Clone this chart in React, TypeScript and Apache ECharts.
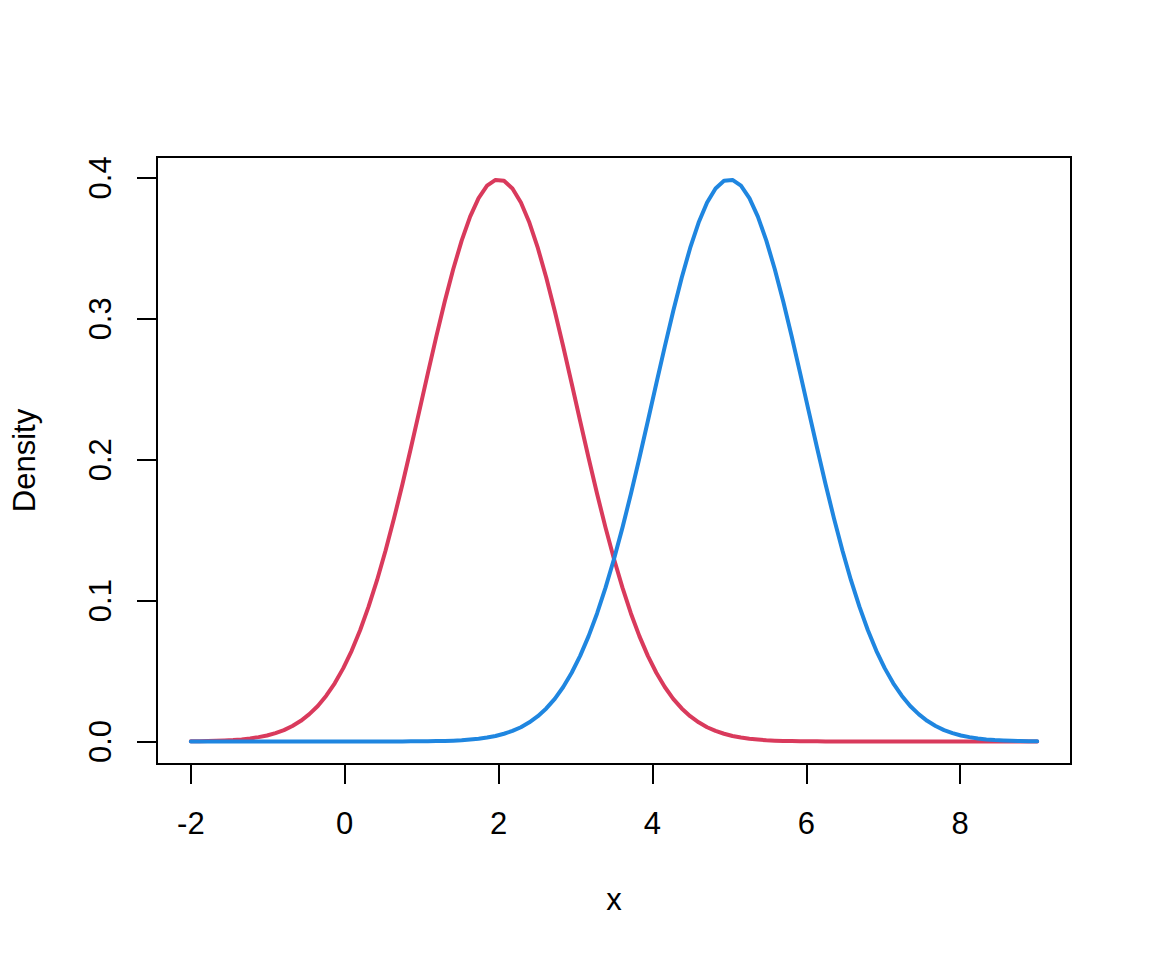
import React, { useEffect, useRef } from "react";
import * as echarts from "echarts";

// x grid (101 points from -2 to 9)
const xValues = [
  -2.0, -1.89, -1.78, -1.67, -1.56, -1.45, -1.34, -1.23, -1.12, -1.01,
  -0.9, -0.79, -0.68, -0.57, -0.46, -0.35, -0.24, -0.13, -0.02, 0.09,
  0.2, 0.31, 0.42, 0.53, 0.64, 0.75, 0.86, 0.97, 1.08, 1.19,
  1.3, 1.41, 1.52, 1.63, 1.74, 1.85, 1.96, 2.07, 2.18, 2.29,
  2.4, 2.51, 2.62, 2.73, 2.84, 2.95, 3.06, 3.17, 3.28, 3.39,
  3.5, 3.61, 3.72, 3.83, 3.94, 4.05, 4.16, 4.27, 4.38, 4.49,
  4.6, 4.71, 4.82, 4.93, 5.04, 5.15, 5.26, 5.37, 5.48, 5.59,
  5.7, 5.81, 5.92, 6.03, 6.14, 6.25, 6.36, 6.47, 6.58, 6.69,
  6.8, 6.91, 7.02, 7.13, 7.24, 7.35, 7.46, 7.57, 7.68, 7.79,
  7.9, 8.01, 8.12, 8.23, 8.34, 8.45, 8.56, 8.67, 8.78, 8.89,
  9.0,
];

// red curve (centred at 2)
const redDensity = [
  0.0001, 0.0002, 0.0003, 0.0005, 0.0007, 0.001, 0.0015, 0.0022, 0.0031, 0.0043,
  0.006, 0.0081, 0.011, 0.0147, 0.0194, 0.0252, 0.0325, 0.0413, 0.0519, 0.0644,
  0.079, 0.0957, 0.1145, 0.1354, 0.1582, 0.1826, 0.2083, 0.2347, 0.2613, 0.2874,
  0.3123, 0.3352, 0.3555, 0.3725, 0.3857, 0.3945, 0.3986, 0.398, 0.3925, 0.3825,
  0.3683, 0.3503, 0.3292, 0.3056, 0.2803, 0.2541, 0.2275, 0.2012, 0.1758, 0.1518,
  0.1295, 0.1092, 0.0909, 0.0748, 0.0608, 0.0488, 0.0387, 0.0303, 0.0235, 0.018,
  0.0136, 0.0101, 0.0075, 0.0055, 0.0039, 0.0028, 0.002, 0.0014, 0.0009, 0.0006,
  0.0004, 0.0003, 0.0002, 0.0001, 0.0001, 0, 0, 0, 0, 0,
  0, 0, 0, 0, 0, 0, 0, 0, 0, 0,
  0, 0, 0, 0, 0, 0, 0, 0, 0, 0,
  0,
];

// blue curve (centred at 5)
const blueDensity = [
  0, 0, 0, 0, 0, 0, 0, 0, 0, 0,
  0, 0, 0, 0, 0, 0, 0, 0, 0, 0,
  0, 0, 0, 0, 0, 0, 0.0001, 0.0001, 0.0002, 0.0003,
  0.0004, 0.0006, 0.0009, 0.0014, 0.002, 0.0028, 0.0039, 0.0055, 0.0075, 0.0101,
  0.0136, 0.018, 0.0235, 0.0303, 0.0387, 0.0488, 0.0608, 0.0748, 0.0909, 0.1092,
  0.1295, 0.1518, 0.1758, 0.2012, 0.2275, 0.2541, 0.2803, 0.3056, 0.3292, 0.3503,
  0.3683, 0.3825, 0.3925, 0.398, 0.3986, 0.3945, 0.3857, 0.3725, 0.3555, 0.3352,
  0.3123, 0.2874, 0.2613, 0.2347, 0.2083, 0.1826, 0.1582, 0.1354, 0.1145, 0.0957,
  0.079, 0.0644, 0.0519, 0.0413, 0.0325, 0.0252, 0.0194, 0.0147, 0.011, 0.0081,
  0.006, 0.0043, 0.0031, 0.0022, 0.0015, 0.001, 0.0007, 0.0005, 0.0003, 0.0002,
  0.0001,
];

const xTicks = [-2, 0, 2, 4, 6, 8];
const yTicks = [0, 0.1, 0.2, 0.3, 0.4];

const FONT = "'Liberation Sans', Arial, Helvetica, sans-serif";
const RED = "#D93A5C";
const BLUE = "#1F86E0";

export default function App() {
  const ref = useRef<HTMLDivElement>(null);
  useEffect(() => {
    if (!ref.current) return;
    const chart = echarts.init(ref.current, undefined, { renderer: "svg" });
    const red = xValues.map((x, i) => [x, redDensity[i]]);
    const blue = xValues.map((x, i) => [x, blueDensity[i]]);
    chart.setOption({
      animation: false,
      backgroundColor: "#ffffff",
      grid: {
        left: 157,
        top: 157,
        width: 914,
        height: 607,
        show: true,
        borderColor: "#000000",
        borderWidth: 2,
        backgroundColor: "transparent",
      },
      xAxis: {
        type: "value",
        min: -2.44,
        max: 9.44,
        splitLine: { show: false },
        axisLine: { show: false, onZero: false },
        axisTick: {
          show: true,
          customValues: xTicks,
          length: 20,
          inside: false,
          lineStyle: { color: "#000", width: 2 },
        },
        axisLabel: {
          customValues: xTicks,
          margin: 59,
          verticalAlign: "middle",
          color: "#000",
          fontSize: 31,
          fontFamily: FONT,
        },
        name: "x",
        nameLocation: "middle",
        nameGap: 135,
        nameTextStyle: {
          color: "#000",
          fontSize: 31,
          fontFamily: FONT,
          verticalAlign: "middle",
        },
      },
      yAxis: {
        type: "value",
        min: -0.01596,
        max: 0.41485,
        splitLine: { show: false },
        axisLine: { show: false, onZero: false },
        axisTick: {
          show: true,
          customValues: yTicks,
          length: 20,
          inside: false,
          lineStyle: { color: "#000", width: 2 },
        },
        axisLabel: {
          customValues: yTicks,
          rotate: 90,
          margin: 57,
          verticalAlign: "middle",
          align: "center",
          color: "#000",
          fontSize: 31,
          fontFamily: FONT,
          formatter: (v: number) => v.toFixed(1),
        },
        name: "Density",
        nameLocation: "middle",
        nameGap: 133,
        nameTextStyle: {
          color: "#000",
          fontSize: 31,
          fontFamily: FONT,
          verticalAlign: "middle",
        },
      },
      series: [
        {
          type: "line",
          data: red,
          showSymbol: false,
          smooth: false,
          lineStyle: { color: RED, width: 4, cap: "round", join: "round" },
          itemStyle: { color: RED },
          z: 2,
        },
        {
          type: "line",
          data: blue,
          showSymbol: false,
          smooth: false,
          lineStyle: { color: BLUE, width: 4, cap: "round", join: "round" },
          itemStyle: { color: BLUE },
          z: 3,
        },
      ],
    });
    return () => chart.dispose();
  }, []);
  return (
    <div
      ref={ref}
      style={{ position: "fixed", left: 0, top: 0, width: 1152, height: 960, background: "#fff" }}
    />
  );
}
